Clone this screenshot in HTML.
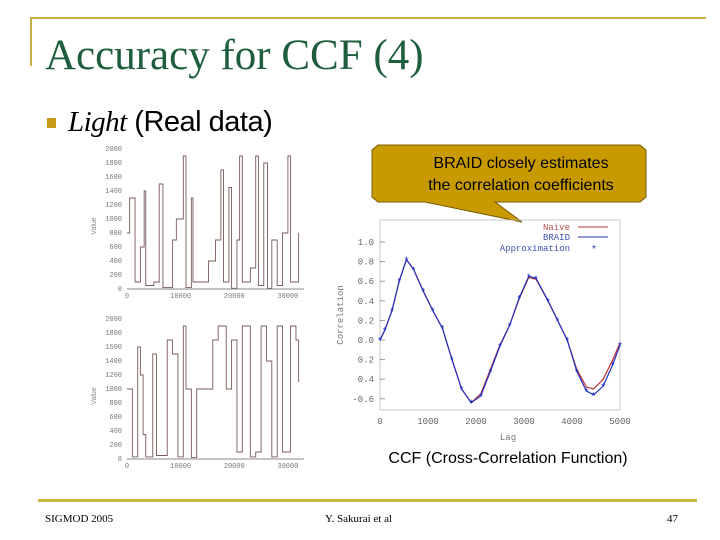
<!DOCTYPE html>
<html><head><meta charset="utf-8"><style>
body{margin:0;width:720px;height:540px;background:#fff;overflow:hidden;position:relative;font-family:"Liberation Sans",sans-serif}
.abs{position:absolute}
</style></head><body>
<div class="abs" style="left:30px;top:17px;width:676px;height:2px;background:#c8b040"></div>
<div class="abs" style="left:30px;top:17px;width:2px;height:49px;background:#c8b040"></div>
<div class="abs" style="left:45px;top:31px;font:43px 'Liberation Serif',serif;color:#1e5e3c;white-space:nowrap">Accuracy for CCF (4)</div>
<div class="abs" style="left:47px;top:118px;width:9px;height:10px;background:#c89a1a"></div>
<div class="abs" style="left:68px;top:106px;font-size:29px;white-space:nowrap;letter-spacing:-0.5px"><i style="font-family:'Liberation Serif',serif">Light</i> (Real data)</div>
<svg class="abs" style="left:0;top:0" width="720" height="540" id="svg">
<polygon points="378,145 640,145 646,150 646,197 640,202 495,202 522,222 425,202 378,202 372,197 372,150" fill="#c89a00" stroke="#7a5c00" stroke-width="1"/>
<text x="521" y="168" font-size="16" text-anchor="middle" font-family="Liberation Sans, sans-serif">BRAID closely estimates</text>
<text x="521" y="190" font-size="16" text-anchor="middle" font-family="Liberation Sans, sans-serif">the correlation coefficients</text>
<g id="ccf"></g><g id="ts1"></g><g id="ts2"></g>
<text x="508" y="463" font-size="16" text-anchor="middle" font-family="Liberation Sans, sans-serif">CCF (Cross-Correlation Function)</text>
<rect x="38" y="499" width="659" height="3" fill="#c8b840"/>
<text x="45" y="522" font-size="11" font-family="Liberation Serif, serif">SIGMOD 2005</text>
<text x="325" y="522" font-size="11" font-family="Liberation Serif, serif">Y. Sakurai et al</text>
<text x="667" y="522" font-size="11" font-family="Liberation Serif, serif">47</text>
</svg>
<script>
const lags=[0,100,250,400,550,700,900,1100,1300,1500,1700,1900,2100,2300,2500,2700,2900,3100,3250,3500,3700,3900,4100,4300,4450,4650,4850,5000];
const naive=[0.0,0.1,0.3,0.6,0.82,0.72,0.5,0.3,0.12,-0.2,-0.5,-0.64,-0.55,-0.3,-0.05,0.15,0.42,0.64,0.62,0.4,0.2,0.0,-0.3,-0.48,-0.5,-0.4,-0.2,-0.03];
const braid=[0.0,0.1,0.3,0.6,0.82,0.72,0.5,0.3,0.12,-0.2,-0.5,-0.64,-0.57,-0.32,-0.06,0.15,0.43,0.65,0.63,0.4,0.2,0.0,-0.32,-0.52,-0.56,-0.47,-0.25,-0.05];
const yTicks=[1.0,0.8,0.6,0.4,0.2,0.0,-0.2,-0.4,-0.6];
const yTickLabels=["1.0","0.8","0.6","0.4","0.2","0.0","0.2","0.4","-0.6"];
const xTicks=[0,1000,2000,3000,4000,5000];
const ts1=[[0,800],[500,1300],[1500,100],[2500,600],[3200,1400],[3500,50],[5000,100],[6000,1500],[6700,20],[8500,700],[9200,1000],[10500,1900],[11000,20],[12000,1300],[12300,100],[14000,100],[15200,400],[16500,700],[17500,1700],[18000,100],[19000,1450],[19500,10],[20500,700],[21000,1900],[21500,100],[23000,300],[24000,1900],[24500,50],[25500,1800],[26200,10],[27000,700],[28000,50],[29000,800],[30000,1900],[30500,100],[32000,800]];
const ts2=[[0,1000],[1000,30],[2000,1600],[2500,1200],[3000,350],[3500,30],[4800,1500],[5500,50],[7500,1700],[8500,1500],[9500,30],[10500,1900],[11000,1000],[12000,20],[13000,1000],[15000,1000],[16000,1700],[17000,1900],[17500,1900],[18500,1000],[19500,1700],[20500,100],[21500,1900],[22500,1900],[23000,30],[24000,100],[25000,1900],[26000,1400],[27000,30],[28000,1900],[29000,100],[30500,1900],[31500,1700],[32000,1100]];
const NS="http://www.w3.org/2000/svg";
function mk(p,t,a){const e=document.createElementNS(NS,t);for(const k in a)e.setAttribute(k,a[k]);p.appendChild(e);return e;}
const g=document.getElementById('ccf');
const X0=380,X1=620,Y0=340,SY=98;
const sx=v=>X0+(v/5000)*(X1-X0), sy=v=>Y0-v*SY;
let fr=mk(g,'rect',{x:X0,y:220,width:X1-X0,height:190,fill:'none',stroke:'#bbb','stroke-width':0.8});


yTicks.forEach((t,i)=>{const y=sy(t);
 const tx=mk(g,'text',{x:X0-6,y:y+3,'font-size':9,'text-anchor':'end','font-family':'Liberation Mono, monospace',fill:'#666'});tx.textContent=yTickLabels[i];
 
 
 mk(g,'line',{x1:X0,x2:X0+5,y1:y,y2:y,stroke:'#999'});});
xTicks.forEach(t=>{const tx=mk(g,'text',{x:sx(t),y:424,'font-size':9,'text-anchor':'middle','font-family':'Liberation Mono, monospace',fill:'#666'});tx.textContent=t;
 
 });
let t=mk(g,'text',{x:508,y:440,'font-size':9,'text-anchor':'middle',fill:'#777','font-family':'Liberation Mono, monospace'});t.textContent='Lag';


t=mk(g,'text',{x:0,y:0,'font-size':9,'text-anchor':'middle',fill:'#777',transform:'translate(343,315) rotate(-90)','font-family':'Liberation Mono, monospace'});t.textContent='Correlation';


const pts=a=>a.map((v,i)=>sx(lags[i])+','+sy(v)).join(' ');
let l=mk(g,'polyline',{points:pts(naive),fill:'none',stroke:'#c03030','stroke-width':1.2});


l=mk(g,'polyline',{points:pts(braid),fill:'none',stroke:'#2030c0','stroke-width':1.2});


braid.forEach((v,i)=>{const m=mk(g,'text',{x:sx(lags[i]),y:sy(v)+4,'font-size':10,'text-anchor':'middle',fill:'#2030c0'});m.textContent='*';
 
 });
const leg=[['Naive','#c03030',230],['BRAID','#2030c0',240],['Approximation','#2030c0',251]];
leg.forEach(([n,c,y],i)=>{const tx=mk(g,'text',{x:570,y:y,'font-size':9,'text-anchor':'end','font-family':'Liberation Mono, monospace',fill:i==0?'#c05050':'#4050b0'});tx.textContent=n;
 
 
 if(i<2)mk(g,'line',{x1:578,x2:608,y1:y-3,y2:y-3,stroke:c});else{const s=mk(g,'text',{x:592,y:y+1,'font-size':10,fill:c});s.textContent='*';}});
function ts(id,data,top,zero){const gg=document.getElementById(id);
 const L=127,R=304,sxx=v=>L+v/33000*(R-L),syy=v=>zero-v*(zero-top)/1800;
 const yt=[0,200,400,600,800,1000,1200,1400,1600,1800,2000];
 yt.forEach(v=>{const tx=mk(gg,'text',{x:L-5,y:syy(v)+2,'font-size':7,'text-anchor':'end',fill:'#777','font-family':'Liberation Mono, monospace'});tx.textContent=v;
  
  });
 [0,10000,20000,30000].forEach(v=>{const tx=mk(gg,'text',{x:sxx(v),y:zero+9,'font-size':7,'text-anchor':'middle',fill:'#777','font-family':'Liberation Mono, monospace'});tx.textContent=v;
  
  });
 const ty=mk(gg,'text',{x:0,y:0,'font-size':7,'text-anchor':'middle',fill:'#888',transform:`translate(96,${(top+zero)/2}) rotate(-90)`});ty.textContent='Value';
 
 
 let d='';data.forEach((p,i)=>{d+=(i?'L':'M')+sxx(p[0])+','+syy(p[1]);if(i<data.length-1)d+='L'+sxx(data[i+1][0])+','+syy(p[1]);});
 const pl=mk(gg,'path',{d:d,fill:'none',stroke:'#7a5a5a','stroke-width':0.9});
 
 
 mk(gg,'line',{x1:L,x2:R,y1:zero,y2:zero,stroke:'#888'});}
ts('ts1',ts1,163,289);ts('ts2',ts2,333,459);
</script>
</body></html>
